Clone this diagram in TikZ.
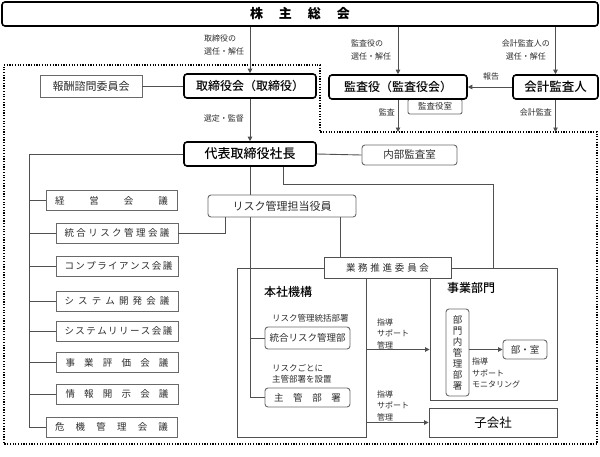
\documentclass[tikz,border=0pt]{standalone}
\usepackage{fontspec}
\setmainfont{Noto Sans CJK JP}
\newfontfamily\mediumfont{Noto Sans CJK JP Medium}
\usepackage{xcolor}
\usetikzlibrary{arrows.meta}
\definecolor{lineGray}{RGB}{80,80,80}
\definecolor{boxGray}{RGB}{105,105,105}
\definecolor{textGray}{RGB}{45,45,45}
\tikzset{
    mainBox/.style={draw=black, line width=1.6pt, rounded corners=3pt, inner sep=0pt, fill=white, font=\fontsize{12}{14}\selectfont\mediumfont},
    meetBox/.style={draw=boxGray, line width=0.9pt, inner sep=0pt, minimum height=20pt, fill=white, text=textGray, font=\fontsize{9.5}{11}\selectfont},
    subBox/.style={draw=boxGray, line width=0.9pt, rounded corners=3pt, inner sep=0pt, fill=white, text=textGray, font=\fontsize{10.5}{12}\selectfont},
    frameBox/.style={draw=lineGray, line width=0.9pt, inner sep=0pt},
    note/.style={inner sep=0pt, align=left, text=textGray, font=\fontsize{8}{11.5}\selectfont},
    conn/.style={draw=lineGray, line width=0.9pt},
    arr/.style={conn, -{Triangle[length=4.5pt,width=4.5pt]}},
    frameDots/.style={draw=black, line width=1.2pt, dash pattern=on 1.2pt off 1.5pt}
}
\begin{document}
\begin{tikzpicture}[x=1pt, y=-1pt]
    \useasboundingbox (0,0) rectangle (600,456);
    \node[mainBox, minimum width=596pt, minimum height=24pt, font=\fontsize{13}{15}\selectfont\bfseries] (gm) at (300,14) {\makebox[100pt][s]{株 主 総 会}};
    \node[mainBox, minimum width=132pt, minimum height=24pt] (board) at (250,86) {取締役会（取締役）};
    \node[meetBox, minimum width=102pt, minimum height=22pt, font=\fontsize{11}{13}\selectfont] (rewardCom) at (91,86) {報酬諮問委員会};
    \node[subBox, rounded corners=2pt, minimum width=54pt, minimum height=15pt, font=\fontsize{8.5}{10}\selectfont] (kansaRoom) at (435,106.5) {監査役室};
    \node[mainBox, minimum width=138pt, minimum height=24pt] (kansa) at (398,87) {監査役（監査役会）};
    \node[mainBox, minimum width=85pt, minimum height=24pt, font=\fontsize{12.5}{14}\selectfont\mediumfont] (auditor) at (555.5,87) {会計監査人};
    \node[mainBox, minimum width=132pt, minimum height=24pt, font=\fontsize{13}{15}\selectfont\mediumfont] (ceo) at (250,154) {代表取締役社長};
    \node[subBox, minimum width=95pt, minimum height=20pt] (internalAudit) at (409.5,155) {内部監査室};
    \node[subBox, minimum width=148pt, minimum height=22pt, font=\fontsize{11}{13}\selectfont] (riskOfficer) at (282,206) {リスク管理担当役員};

    \node[meetBox, minimum width=131pt] (meetMgmt) at (111.5,200.5) {\makebox[113pt][s]{経 営 会 議}};
    \node[meetBox, minimum width=122pt] (meetRisk) at (117,233) {\makebox[105pt][s]{統 合 リ ス ク 管 理 会 議}};
    \node[meetBox, minimum width=122pt] (meetComp) at (117,266) {\makebox[105pt][s]{コ ン プ ラ イ ア ン ス 会 議}};
    \node[meetBox, minimum width=122pt] (meetSysDev) at (117,301) {\makebox[105pt][s]{シ ス テ ム 開 発 会 議}};
    \node[meetBox, minimum width=122pt] (meetSysRel) at (117,331) {\makebox[105pt][s]{シ ス テ ム リ リ ー ス 会 議}};
    \node[meetBox, minimum width=122pt] (meetEval) at (117,362.5) {\makebox[103pt][s]{事 業 評 価 会 議}};
    \node[meetBox, minimum width=122pt] (meetDisc) at (117,394) {\makebox[103pt][s]{情 報 開 示 会 議}};
    \node[meetBox, minimum width=131pt] (meetCrisis) at (111.5,427) {\makebox[113pt][s]{危 機 管 理 会 議}};

    \node[frameBox, minimum width=129pt, minimum height=169pt] (hq) at (301.5,352.5) {};
    \node[frameBox, minimum width=127pt, minimum height=132pt] (bizDiv) at (493.5,334) {};
    \node[meetBox, minimum width=127pt, minimum height=21pt, draw=lineGray] (bizPromo) at (387.5,267.5) {\makebox[83pt][s]{業 務 推 進 委 員 会}};
    \node[inner sep=0pt, font=\fontsize{12}{14}\selectfont\mediumfont] (hqTitle) at (288,292) {本社機構};
    \node[inner sep=0pt, font=\fontsize{12}{14}\selectfont\mediumfont] (bizTitle) at (471,288) {事業部門};
    \node[note, anchor=west, font=\fontsize{8.5}{11.5}\selectfont] (riskMgmtNote) at (272,318) {リスク管理統括部署};
    \node[subBox, minimum width=85pt, minimum height=22pt, font=\fontsize{9.5}{11}\selectfont] (riskDept) at (307.5,338) {統合リスク管理部};
    \node[note, anchor=west, font=\fontsize{8.5}{11}\selectfont] (perRiskNote) at (272,373.5) {リスクごとに\\主管部署を設置};
    \node[subBox, minimum width=85pt, minimum height=19pt, font=\fontsize{9.5}{11}\selectfont] (mainDept) at (307.5,397.5) {\makebox[67pt][s]{主 管 部 署}};
    \node[subBox, minimum width=23pt, minimum height=87pt, align=center, font=\fontsize{9.5}{11}\selectfont] (divMgmt) at (457.5,352.5) {部\\門\\内\\管\\理\\部\\署};
    \node[subBox, minimum width=44pt, minimum height=19pt, font=\fontsize{9.5}{11}\selectfont] (deptRoom) at (525,349.5) {部・室};
    \node[frameBox, minimum width=128pt, minimum height=29pt, font=\fontsize{12.5}{14}\selectfont] (subsidiary) at (493,422.5) {子会社};

    \node[note, anchor=west, font=\fontsize{8}{13}\selectfont] (boardNote) at (204,44.5) {取締役の\\選任・解任};
    \node[note, anchor=west, font=\fontsize{8}{13}\selectfont] (kansaNote) at (351,49.5) {監査役の\\選任・解任};
    \node[note, anchor=east, align=center, font=\fontsize{8}{13}\selectfont] (auditorNote) at (550,49.5) {会計監査人の\\選任・解任};
    \node[note] (reportNote) at (491,76) {報告};
    \node[note, anchor=east] (auditNote) at (395,112) {監査};
    \node[note, anchor=east] (accAuditNote) at (552,112) {会計監査};
    \node[note, anchor=east] (superviseNote) at (244,118) {選定・監督};
    \node[note, anchor=west] (guideNoteA) at (377,333.5) {指導\\サポート\\管理};
    \node[note, anchor=west] (guideNoteB) at (377,405.5) {指導\\サポート\\管理};
    \node[note, anchor=north west] (monitorNote) at (472,358) {指導\\サポート\\モニタリング};

    \coordinate (frameStep) at (320,132);
    \coordinate (bracket) at ([xshift=-16pt]meetMgmt.west);
    \draw[frameDots] (4,65) -- (320,65) -- (frameStep) -- (597,132) -- (597,444) -- (4,444) -- cycle;
    \draw[arr] (gm.south -| board.north) -- (board.north);
    \draw[arr] (gm.south -| kansa.north) -- (kansa.north);
    \draw[arr] (gm.south -| auditor.north) -- (auditor.north);
    \draw[conn] (rewardCom.east) -- (board.west);
    \draw[arr] (board.south) -- (ceo.north);
    \draw[arr] (auditor.west) -- (kansa.east);
    \draw[arr] (kansa.south) -- (kansa.south |- frameStep);
    \draw[arr] (auditor.south) -- (auditor.south |- frameStep);
    \draw[conn] (ceo.east) -- (internalAudit.west);
    \draw[conn] (ceo.west) -| (bracket) |- (meetCrisis.west);
    \foreach \m in {meetMgmt, meetRisk, meetComp, meetSysDev, meetSysRel, meetEval, meetDisc}
        \draw[conn] (\m.west) -- (bracket |- \m.west);
    \draw[conn] (ceo.south) -- (riskOfficer.north -| ceo.south);
    \draw[conn] (riskOfficer.south -| ceo.south) |- (mainDept.west);
    \draw[conn] (riskOfficer.south -| ceo.south) |- (riskDept.west);
    \draw[conn] ([xshift=33pt]ceo.south) -- ++(0,18) -| (bizDiv.north);
    \draw[conn] ([xshift=-57pt]riskOfficer.south) |- (meetRisk.east);
    \draw[conn] ([xshift=58pt]riskOfficer.south) -- ([xshift=58pt]riskOfficer.south |- bizPromo.north);
    \draw[arr] (hq.east |- deptRoom.west) -- (bizDiv.west |- deptRoom.west);
    \draw[arr] (divMgmt.east |- deptRoom.west) -- (deptRoom.west);
    \draw[arr] (hq.east |- subsidiary.west) -- (subsidiary.west);
\end{tikzpicture}
\end{document}
